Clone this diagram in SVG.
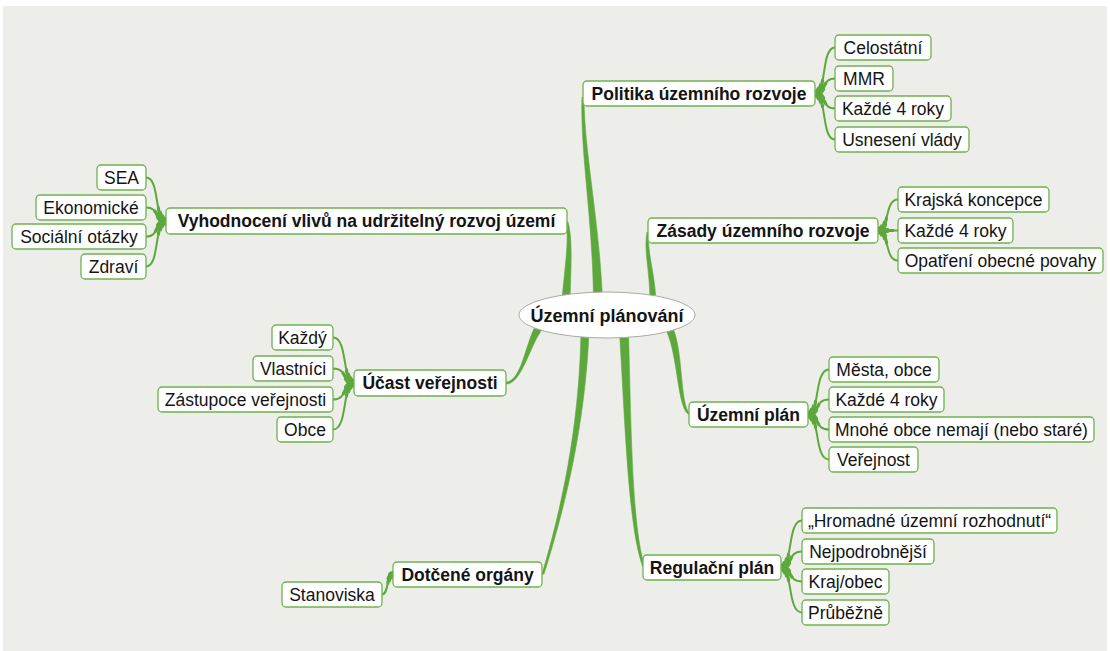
<svg xmlns="http://www.w3.org/2000/svg" xmlns:xlink="http://www.w3.org/1999/xlink" width="1110" height="651" viewBox="0 0 1110 651">
  <style>
    .box { fill: #ffffff; stroke: #6fb24f; stroke-width: 1.3; }
    .hub { fill: #ffffff; stroke: #a9a9a9; stroke-width: 1; }
    text { font-family: "Liberation Sans", Arial, sans-serif; font-size: 17.5px; fill: #141414; text-anchor: middle; }
    .b { font-weight: bold; }
    .c { font-size: 18px; }
    .trunk { fill: #5ca83c; stroke: #5ca83c; stroke-width: 0.6; stroke-linejoin: round; }
    .wire { fill: none; stroke: #5ca83c; stroke-linecap: round; stroke-linejoin: round; }
    .s1 { stroke-width: 7; }
    .s2 { stroke-width: 5; }
    .s3 { stroke-width: 3.2; }
    .s4 { stroke-width: 2; }
  </style>
  <defs>
    <!-- leaf curves: each starts at its parent topic (thick end) -->
    <g id="leaves">
      <path d="M815,93.5 C827,93.5 821,47.5 835,47.5"/>
      <path d="M815,93.5 C827,93.5 821,78.5 835,78.5"/>
      <path d="M815,93.5 C827,93.5 821,108.5 835,108.5"/>
      <path d="M815,93.5 C827,93.5 821,139.5 835,139.5"/>

      <path d="M878,230.5 C890,230.5 884,199.5 898,199.5"/>
      <path d="M878,230.5 C890,230.5 884,230.5 898,230.5"/>
      <path d="M878,230.5 C890,230.5 884,260.5 898,260.5"/>

      <path d="M808,414.5 C820,414.5 814,369.5 829,369.5"/>
      <path d="M808,414.5 C820,414.5 814,399.5 829,399.5"/>
      <path d="M808,414.5 C820,414.5 814,429.5 829,429.5"/>
      <path d="M808,414.5 C820,414.5 814,459.5 829,459.5"/>

      <path d="M781,567.5 C793,567.5 787,520.5 802,520.5"/>
      <path d="M781,567.5 C793,567.5 787,551.5 802,551.5"/>
      <path d="M781,567.5 C793,567.5 787,581.5 802,581.5"/>
      <path d="M781,567.5 C793,567.5 787,612.5 802,612.5"/>

      <path d="M166,221 C154,221 160,177.5 146,177.5"/>
      <path d="M166,221 C154,221 160,207.5 146,207.5"/>
      <path d="M166,221 C154,221 160,236.5 146,236.5"/>
      <path d="M166,221 C154,221 160,266.5 146,266.5"/>

      <path d="M354,383 C342,383 348,337.5 333,337.5"/>
      <path d="M354,383 C342,383 348,368.5 333,368.5"/>
      <path d="M354,383 C342,383 348,399.5 333,399.5"/>
      <path d="M354,383 C342,383 348,429.5 333,429.5"/>

      <path d="M393,574.5 C386,574.5 389,594.5 382,594.5"/>
    </g>
    <!-- rings round each parent junction: thicker strokes only show close to the parent -->
    <clipPath id="near1">
      <circle cx="815" cy="93.5" r="7"/><circle cx="878" cy="230.5" r="7"/>
      <circle cx="808" cy="414.5" r="7"/><circle cx="781" cy="567.5" r="7"/>
      <circle cx="166" cy="221" r="7"/><circle cx="354" cy="383" r="7"/>
      <circle cx="393" cy="574.5" r="5"/>
    </clipPath>
    <clipPath id="near2">
      <circle cx="815" cy="93.5" r="11"/><circle cx="878" cy="230.5" r="11"/>
      <circle cx="808" cy="414.5" r="11"/><circle cx="781" cy="567.5" r="11"/>
      <circle cx="166" cy="221" r="11"/><circle cx="354" cy="383" r="11"/>
      <circle cx="393" cy="574.5" r="8"/>
    </clipPath>
    <clipPath id="near3">
      <circle cx="815" cy="93.5" r="16"/><circle cx="878" cy="230.5" r="16"/>
      <circle cx="808" cy="414.5" r="16"/><circle cx="781" cy="567.5" r="16"/>
      <circle cx="166" cy="221" r="16"/><circle cx="354" cy="383" r="16"/>
      <circle cx="393" cy="574.5" r="11"/>
    </clipPath>
  </defs>

  <!-- backdrop -->
  <rect x="0" y="0" width="1110" height="651" fill="#ffffff"/>
  <rect x="3" y="6" width="1104" height="645" fill="#edede9"/>

  <g id="connectors">
    <!-- tapered trunks from the central topic out to each main topic -->
    <g class="trunk">
      <path d="M593.5,300 C592.75,220 580,150 582,97 L584,97 C584,150 599.25,220 602.5,300 Z"/>
      <path d="M650,300 C649.75,270 643.5,250 647,232 L649,232 C646.5,250 654.25,270 656,300 Z"/>
      <path d="M562,300 C565,265 569.25,240 566,222 L568,222 C572.75,240 571,265 570,300 Z"/>
      <path d="M536.8,323.6 C525.5,341.6 522,381.5 506,382 L506,384 C522,384.5 530.5,342.4 543.2,328.4 Z"/>
      <path d="M664,326 C678.25,350 676.5,405 688,414 L690,414 C679.5,405 683.75,350 672,326 Z"/>
      <path d="M619.5,332 C625,420 628.25,530 643,567 L645,567 C631.75,530 631,420 628.5,332 Z"/>
      <path d="M581,332 C579.25,430 560.5,512 542,574 L544,574 C563.5,512 584.75,430 589,332 Z"/>
    </g>
    <!-- leaf links, thickened near their parent -->
    <g class="wire">
      <use xlink:href="#leaves" class="s1" clip-path="url(#near1)"/>
      <use xlink:href="#leaves" class="s2" clip-path="url(#near2)"/>
      <use xlink:href="#leaves" class="s3" clip-path="url(#near3)"/>
      <use xlink:href="#leaves" class="s4"/>
    </g>
  </g>

  <!-- central topic -->
  <g id="node-center">
    <ellipse class="hub" cx="607" cy="315" rx="88" ry="23"/>
    <text class="b c" x="607" y="321.5">Územní plánování</text>
  </g>

  <!-- Politika územního rozvoje -->
  <g id="node-politika">
    <rect class="box" x="583" y="81" width="232" height="25" rx="4"/>
    <text class="b" x="699" y="99.5">Politika územního rozvoje</text>
  </g>
  <g id="node-celostatni">
    <rect class="box" x="835" y="35" width="96" height="25" rx="4"/>
    <text x="883" y="53.5">Celostátní</text>
  </g>
  <g id="node-mmr">
    <rect class="box" x="835" y="66" width="58" height="25" rx="4"/>
    <text x="864" y="84.5">MMR</text>
  </g>
  <g id="node-politika-4roky">
    <rect class="box" x="835" y="96" width="116" height="25" rx="4"/>
    <text x="893" y="114.5">Každé 4 roky</text>
  </g>
  <g id="node-usneseni">
    <rect class="box" x="835" y="127" width="134" height="25" rx="4"/>
    <text x="902" y="145.5">Usnesení vlády</text>
  </g>

  <!-- Zásady územního rozvoje -->
  <g id="node-zasady">
    <rect class="box" x="648" y="218" width="230" height="25" rx="4"/>
    <text class="b" x="763" y="236.5">Zásady územního rozvoje</text>
  </g>
  <g id="node-krajska">
    <rect class="box" x="898" y="187" width="151" height="25" rx="4"/>
    <text x="973.5" y="205.5">Krajská koncepce</text>
  </g>
  <g id="node-zasady-4roky">
    <rect class="box" x="898" y="218" width="115" height="25" rx="4"/>
    <text x="955.5" y="236.5">Každé 4 roky</text>
  </g>
  <g id="node-opatreni">
    <rect class="box" x="898" y="248" width="205" height="25" rx="4"/>
    <text x="1000.5" y="266.5">Opatření obecné povahy</text>
  </g>

  <!-- Územní plán -->
  <g id="node-uzemni-plan">
    <rect class="box" x="689" y="402" width="119" height="25" rx="4"/>
    <text class="b" x="748.5" y="420.5">Územní plán</text>
  </g>
  <g id="node-mesta">
    <rect class="box" x="829" y="357" width="110" height="25" rx="4"/>
    <text x="884" y="375.5">Města, obce</text>
  </g>
  <g id="node-plan-4roky">
    <rect class="box" x="829" y="387" width="115" height="25" rx="4"/>
    <text x="886.5" y="405.5">Každé 4 roky</text>
  </g>
  <g id="node-mnohe">
    <rect class="box" x="829" y="417" width="265" height="25" rx="4"/>
    <text x="961.5" y="435.5">Mnohé obce nemají (nebo staré)</text>
  </g>
  <g id="node-verejnost">
    <rect class="box" x="829" y="447" width="89" height="25" rx="4"/>
    <text x="873.5" y="465.5">Veřejnost</text>
  </g>

  <!-- Regulační plán -->
  <g id="node-regulacni">
    <rect class="box" x="643" y="555" width="138" height="25" rx="4"/>
    <text class="b" x="712" y="573.5">Regulační plán</text>
  </g>
  <g id="node-hromadne">
    <rect class="box" x="802" y="508" width="255" height="25" rx="4"/>
    <text x="929.5" y="526.5">„Hromadné územní rozhodnutí“</text>
  </g>
  <g id="node-nejpodrobnejsi">
    <rect class="box" x="802" y="539" width="132" height="25" rx="4"/>
    <text x="868" y="557.5">Nejpodrobnější</text>
  </g>
  <g id="node-kraj-obec">
    <rect class="box" x="802" y="569" width="87" height="25" rx="4"/>
    <text x="845.5" y="587.5">Kraj/obec</text>
  </g>
  <g id="node-prubezne">
    <rect class="box" x="802" y="600" width="87" height="25" rx="4"/>
    <text x="845.5" y="618.5">Průběžně</text>
  </g>

  <!-- Vyhodnocení vlivů -->
  <g id="node-vyhodnoceni">
    <rect class="box" x="166" y="208" width="401" height="26" rx="4"/>
    <text class="b" x="366.5" y="227">Vyhodnocení vlivů na udržitelný rozvoj území</text>
  </g>
  <g id="node-sea">
    <rect class="box" x="97" y="165" width="49" height="25" rx="4"/>
    <text x="121.5" y="183.5">SEA</text>
  </g>
  <g id="node-ekonomicke">
    <rect class="box" x="36" y="195" width="110" height="25" rx="4"/>
    <text x="91" y="213.5">Ekonomické</text>
  </g>
  <g id="node-socialni">
    <rect class="box" x="12" y="224" width="134" height="25" rx="4"/>
    <text x="79" y="242.5">Sociální otázky</text>
  </g>
  <g id="node-zdravi">
    <rect class="box" x="81" y="254" width="65" height="25" rx="4"/>
    <text x="113.5" y="272.5">Zdraví</text>
  </g>

  <!-- Účast veřejnosti -->
  <g id="node-ucast">
    <rect class="box" x="354" y="370" width="152" height="26" rx="4"/>
    <text class="b" x="430" y="389">Účast veřejnosti</text>
  </g>
  <g id="node-kazdy">
    <rect class="box" x="272" y="325" width="61" height="25" rx="4"/>
    <text x="302.5" y="343.5">Každý</text>
  </g>
  <g id="node-vlastnici">
    <rect class="box" x="253" y="356" width="80" height="25" rx="4"/>
    <text x="293" y="374.5">Vlastníci</text>
  </g>
  <g id="node-zastupce">
    <rect class="box" x="158" y="387" width="175" height="25" rx="4"/>
    <text x="245.5" y="405.5">Zástupoce veřejnosti</text>
  </g>
  <g id="node-obce">
    <rect class="box" x="277" y="417" width="56" height="25" rx="4"/>
    <text x="305" y="435.5">Obce</text>
  </g>

  <!-- Dotčené orgány -->
  <g id="node-dotcene">
    <rect class="box" x="393" y="562" width="149" height="25" rx="4"/>
    <text class="b" x="467.5" y="580.5">Dotčené orgány</text>
  </g>
  <g id="node-stanoviska">
    <rect class="box" x="282" y="582" width="100" height="25" rx="4"/>
    <text x="332" y="600.5">Stanoviska</text>
  </g>
</svg>
